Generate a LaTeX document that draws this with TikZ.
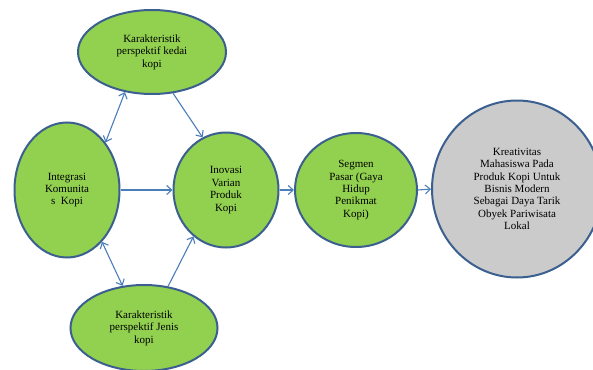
\documentclass[tikz,border=0pt]{standalone}
\usepackage{fontspec}
\setmainfont{Liberation Serif}
\usetikzlibrary{shapes.geometric,arrows.meta}
\definecolor{leaf}{HTML}{92D050}
\definecolor{rim}{HTML}{3B5F8E}
\definecolor{link}{HTML}{4A7EBB}
\definecolor{stone}{HTML}{CBCBCB}
\tikzset{
  bubble/.style={ellipse, draw=rim, line width=2pt, fill=leaf, inner sep=0pt,
    align=center, font=\fontsize{11}{12.4}\selectfont},
  goal/.style={bubble, fill=stone},
  flow/.style={draw=link, line width=1.1pt, -{Straight Barb[length=5pt,width=9pt]}},
  twoway/.style={flow, {Straight Barb[length=5pt,width=9pt]}-{Straight Barb[length=5pt,width=9pt]}}
}
\begin{document}
\begin{tikzpicture}[x=1pt,y=-1pt]
  \useasboundingbox (0,0) rectangle (593,369);
  \clip (0,0) rectangle (593,369);
  \fill[white] (0,0) rectangle (593,369);

  % concept bubbles
  \node[bubble, minimum width=148pt, minimum height=84pt] (kedai) at (152,52)
    {Karakteristik\\perspektif kedai\\kopi};
  \node[bubble, minimum width=105pt, minimum height=135pt] (integ) at (67,190)
    {Integrasi\\Komunita\\s~ Kopi};
  \node[bubble, minimum width=105pt, minimum height=115pt] (inov) at (226,190)
    {Inovasi\\Varian\\Produk\\Kopi};
  \node[bubble, minimum width=122pt, minimum height=114pt] (segmen) at (356,190)
    {Segmen\\Pasar (Gaya\\Hidup\\Penikmat\\Kopi)};
  \node[bubble, minimum width=147pt, minimum height=86pt] (jenis) at (144,328)
    {Karakteristik\\perspektif Jenis\\kopi};
  \node[goal, minimum width=170pt, minimum height=177pt] (kreat) at (517,189)
    {Kreativitas\\Mahasiswa Pada\\Produk Kopi Untuk\\Bisnis Modern\\Sebagai Daya Tarik\\Obyek Pariwisata\\Lokal};

  % connectors
  \draw[twoway] (kedai.236) -- (integ.51);
  \draw[flow] (kedai.297) -- (inov.114);
  \draw[flow] (integ.east) -- (inov.west);
  \draw[twoway] (integ.304) -- (jenis.117);
  \draw[flow] (jenis.60) -- (inov.235);
  \draw[flow] (inov.east) -- (segmen.west);
  \draw[flow] (segmen.east) -- (kreat.west);
\end{tikzpicture}
\end{document}
